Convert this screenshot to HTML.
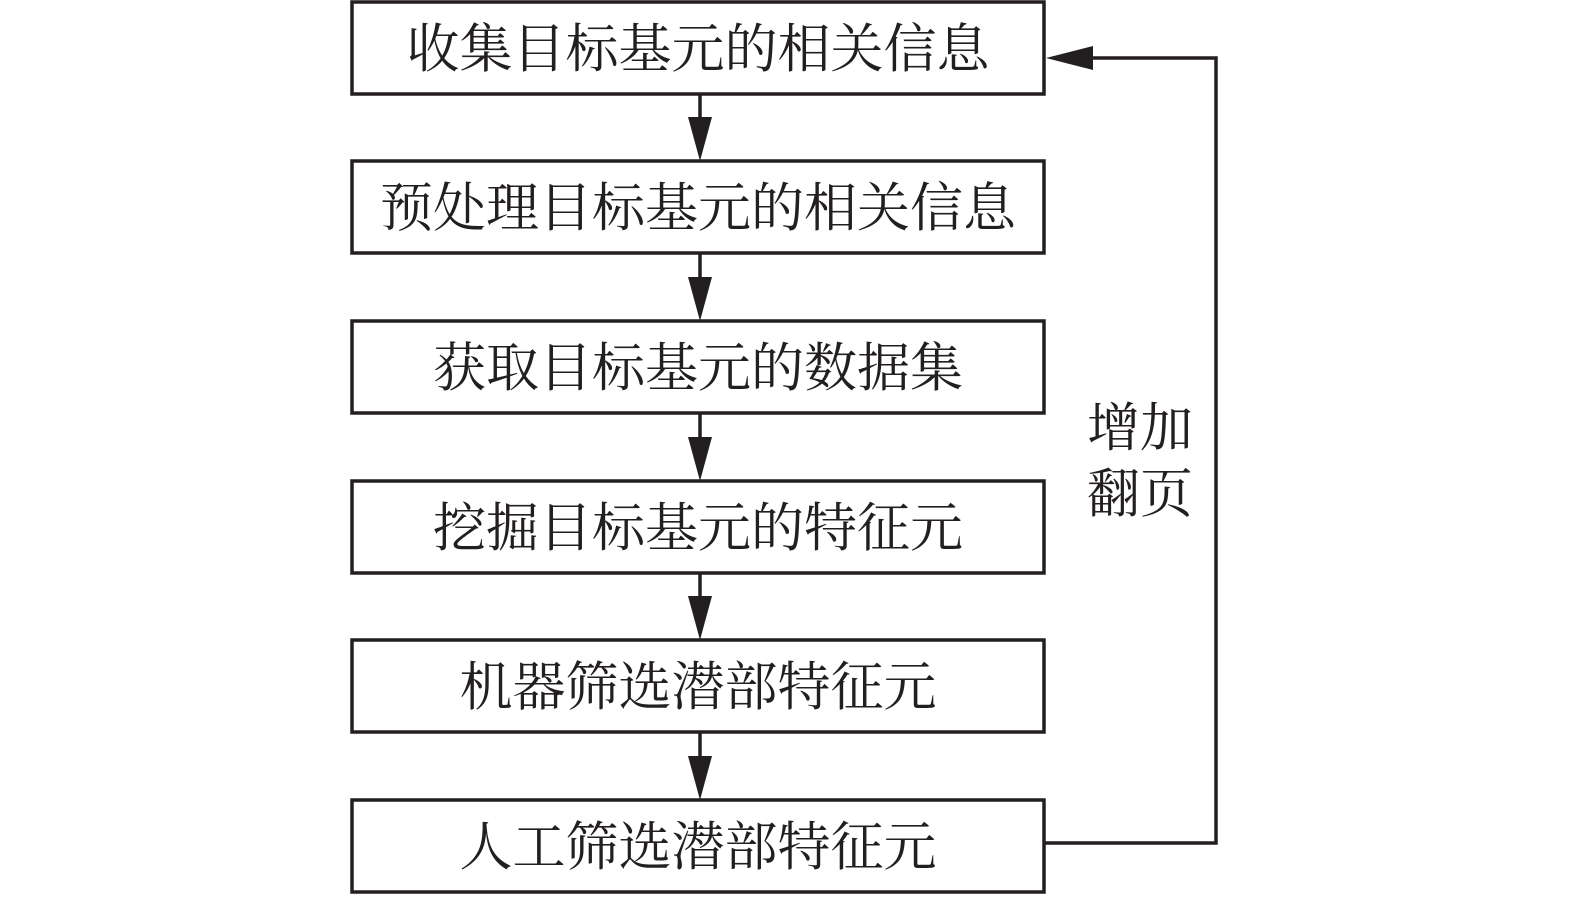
<!DOCTYPE html>
<html><head><meta charset="utf-8"><style>
body{margin:0;background:#fff;}
svg text{font-family:"Liberation Serif","Noto Serif CJK SC",serif;font-size:53px;fill:#231f20;}
</style></head><body>
<svg width="1575" height="898" viewBox="0 0 1575 898" xmlns="http://www.w3.org/2000/svg">
<g fill="none" stroke="#231f20" stroke-width="3.5">
<rect x="352" y="2" width="692" height="92"/>
<rect x="352" y="161" width="692" height="92"/>
<rect x="352" y="321" width="692" height="92"/>
<rect x="352" y="481" width="692" height="92"/>
<rect x="352" y="640" width="692" height="92"/>
<rect x="352" y="800" width="692" height="92"/>
<line x1="700" y1="94" x2="700" y2="120"/>
<line x1="700" y1="253" x2="700" y2="280"/>
<line x1="700" y1="413" x2="700" y2="440"/>
<line x1="700" y1="573" x2="700" y2="600"/>
<line x1="700" y1="732" x2="700" y2="760"/>
<polyline points="1044,843 1216,843 1216,58 1090,58"/>
</g>
<g fill="#231f20">
<polygon points="688,117 712,117 700,161"/>
<polygon points="688,277 712,277 700,321"/>
<polygon points="688,437 712,437 700,481"/>
<polygon points="688,596 712,596 700,640"/>
<polygon points="688,756 712,756 700,800"/>
<polygon points="1046,58 1093,46 1093,70"/>
</g>
<g text-anchor="middle">
<text x="698" y="67">收集目标基元的相关信息</text>
<text x="698" y="226">预处理目标基元的相关信息</text>
<text x="698" y="386">获取目标基元的数据集</text>
<text x="698" y="546">挖掘目标基元的特征元</text>
<text x="698" y="705">机器筛选潜部特征元</text>
<text x="698" y="865">人工筛选潜部特征元</text>
<text x="1140" y="446">增加</text>
<text x="1140" y="512">翻页</text>
</g>
</svg>
</body></html>
